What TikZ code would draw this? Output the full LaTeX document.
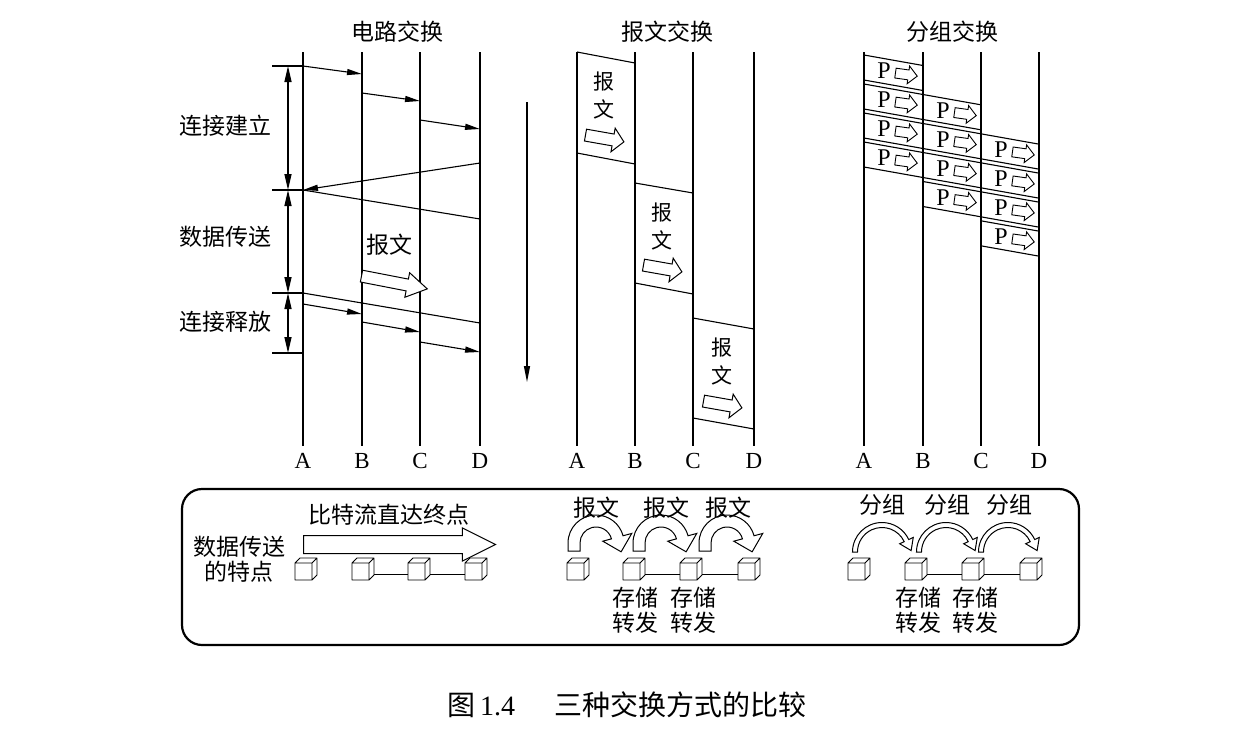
\documentclass[tikz,border=0pt]{standalone}
\usepackage{fontspec}
\setmainfont{Liberation Serif}
\newfontfamily\cjk{Noto Sans CJK SC}
\usetikzlibrary{arrows.meta,shapes.arrows,calc}
% cx cy r w h endangle L tail
\newcommand\bandarrow[8]{%
  \draw[band] ($(#1,#2)+(180:{#3+#4})+(0,#8)$) -- ($(#1,#2)+(180:{#3+#4})$) arc[start angle=180,end angle=#6,radius={#3+#4}]
    -- ($(#1,#2)+(#6:{#3+#5})$)
    -- ($(#1,#2)+(#6:{#3})+({#6+90}:{#7})$)
    -- ($(#1,#2)+(#6:{#3-#5})$)
    -- ($(#1,#2)+(#6:{#3-#4})$)
    arc[start angle=#6,end angle=180,radius={#3-#4}] -- ($(#1,#2)+(180:{#3-#4})+(0,#8)$) -- cycle;}
\tikzset{mycube/.pic={\draw[line width=0.9pt,fill=white,line join=round] (0,0) rectangle (17,17) (0,0) -- (5,-5) -- (22,-5) -- (22,12) -- (17,17) (17,0) -- (22,-5);}}
\begin{document}
\begin{tikzpicture}[x=1pt,y=-1pt,
  tline/.style={line width=1.1pt},
  sl/.style={line width=1.1pt},
  tarr/.style={line width=1.1pt,-{Triangle[length=15pt,width=6pt]}},
  darr/.style={line width=1.4pt,{Triangle[length=16pt,width=7pt]}-{Triangle[length=16pt,width=7pt]}},
  cj/.style={font=\cjk\fontsize{23}{26}\selectfont,inner sep=0pt},
  cjs/.style={font=\cjk\fontsize{21}{24}\selectfont,inner sep=0pt},
  lat/.style={font=\fontsize{23}{26}\selectfont,inner sep=0pt},
  hol/.style n args={4}{single arrow,draw,fill=white,line width=1pt,inner xsep=0pt,inner ysep=#1,single arrow head extend=#2,minimum height=#3,minimum width=0pt,single arrow tip angle=#4,anchor=tail},
  band/.style={line width=1pt,fill=white,line join=miter},
]
\useasboundingbox (0,0) rectangle (1256,732);
% ---------------- circuit switching
\node[cj] (t1) at (397,32) {电路交换};
\foreach \n/\x in {A/303,B/362,C/420,D/480}{
  \draw[tline] (\x,52) -- (\x,446);
  \node[lat] (c\n) at (\x,461) {\n};
}
\foreach \y in {66,190,293,353} \draw[tline] (272,\y) -- (303,\y);
\draw[darr] (288,66) -- (288,190);
\draw[darr] (288,190) -- (288,293);
\draw[darr] (288,293) -- (288,353);
\node[cj] (l1) at (225,126) {连接建立};
\node[cj] (l2) at (225,237) {数据传送};
\node[cj] (l3) at (225,322) {连接释放};
\draw[tarr] (303,66) -- (362,74);
\draw[tarr] (362,93) -- (420,101);
\draw[tarr] (420,120) -- (480,129);
\draw[tarr] (480,163) -- (303,190);
\draw[sl] (303,190) -- (480,219);
\draw[sl] (303,293) -- (480,323);
\draw[tarr] (303,304) -- (362,314);
\draw[tarr] (362,322) -- (420,332);
\draw[tarr] (420,342) -- (480,352);
\node[cj] (cm) at (389,245) {报文};
\node[hol={5.5pt}{6.5pt}{67pt}{63},rotate=-11] (ca) at (361,276) {};
% ---------------- message switching
\node[cj] (t2) at (667,32) {报文交换};
\foreach \n/\x in {A/577,B/635,C/693,D/754}{
  \draw[tline] (\x,52) -- (\x,446);
  \node[lat] (m\n) at (\x,461) {\n};
}
\draw[line width=1.1pt,-{Triangle[length=16pt,width=6pt]}] (527,102) -- (527,382);
\draw[sl] (577,52) -- (635,63) (577,153) -- (635,164);
\draw[sl] (635,183) -- (693,193) (635,283) -- (693,294);
\draw[sl] (693,318) -- (754,329) (693,418) -- (754,429);
\foreach \k/\x/\t in {1/604/52,2/662/183,3/722/318}{
  \node[cjs] (mb\k) at (\x,\t+30) {报};
  \node[cjs] (mw\k) at (\x,\t+57) {文};
}
\node[hol={5.5pt}{6pt}{39pt}{95},rotate=-10] (ma1) at (585,135) {};
\node[hol={5.5pt}{6pt}{39pt}{95},rotate=-10] (ma2) at (643,265) {};
\node[hol={5.5pt}{6pt}{39pt}{95},rotate=-10] (ma3) at (703,401) {};
% ---------------- packet switching
\node[cj] (t3) at (952,32) {分组交换};
\foreach \n/\x in {A/864,B/923,C/981,D/1039}{
  \draw[tline] (\x,52) -- (\x,446);
  \node[lat] (p\n) at (\x,461) {\n};
}
\foreach \s/\a/\b in {0/864/923,1/864/981,2/864/1039,3/864/1039,4/923/1039,5/981/1039}{
  \draw[sl] (\a,{55+29*\s+0.178*(\a-864)}) -- (\b,{55+29*\s+0.178*(\b-864)});
  \draw[sl] (\a,{80+29*\s+0.178*(\a-864)}) -- (\b,{80+29*\s+0.178*(\b-864)});
}
\foreach \j/\xl in {0/864,1/923,2/981}{
  \foreach \i in {0,...,3}{
    \pgfmathsetmacro\s{\i+\j}
    \node[font=\fontsize{24}{26}\selectfont,inner sep=0pt] (pp\j\i) at (\xl+20,{67.5+29*\s+0.178*(\xl+20-864)}) {P};
    \node[hol={4.5pt}{4pt}{22pt}{90},rotate=-8,line width=0.9pt] (pa\j\i) at (\xl+31,{67.5+29*\s+0.178*(\xl+31-864)}) {};
  }
}
% ---------------- bottom box
\draw[line width=2.2pt,rounded corners=20pt] (182,489) rectangle (1079,645);
\node[cj] (b1) at (239,547) {数据传送};
\node[cj] (b2) at (239,572) {的特点};
\node[cj] (b3) at (389,515) {比特流直达终点};
\node[hol={8.5pt}{7.5pt}{192pt}{53}] (ba) at (303,544.5) {};
% cubes
\foreach \x in {295,352,408,465, 567,623,680,738, 848,905,962,1020}{
  \pic at (\x,563) {mycube};
}
\foreach \a/\b in {352/408,408/465,623/680,680/738,905/962,962/1020}{
  \draw[line width=0.9pt] (\a+22,574) -- (\b,574);
}
% message curved arrows
\foreach \c in {596,661,727}{
  \bandarrow{\c}{543}{22}{6}{15}{345}{15}{8}
}
\node[cj] (r1) at (596,508) {报文};
\node[cj] (r2) at (666,508) {报文};
\node[cj] (r3) at (728,508) {报文};
\node[cj] (s1) at (635,598) {存储};
\node[cj] (s2) at (693,598) {存储};
\node[cj] (f1) at (635,623) {转发};
\node[cj] (f2) at (693,623) {转发};
% packet curved arrows
\foreach \c in {882,946,1008}{
  \bandarrow{\c}{552}{27}{2.5}{7.5}{335}{11}{0}
}
\node[cj] (g1) at (882,505) {分组};
\node[cj] (g2) at (947,505) {分组};
\node[cj] (g3) at (1009,505) {分组};
\node[cj] (s3) at (918,598) {存储};
\node[cj] (s4) at (975,598) {存储};
\node[cj] (f3) at (918,623) {转发};
\node[cj] (f4) at (975,623) {转发};
% caption
\node[font=\fontsize{28}{30}\selectfont,inner sep=0pt] (cap) at (627,705) {{\cjk 图}\,1.4\hspace{1.4em}{\cjk 三种交换方式的比较}};
\end{tikzpicture}
\end{document}
